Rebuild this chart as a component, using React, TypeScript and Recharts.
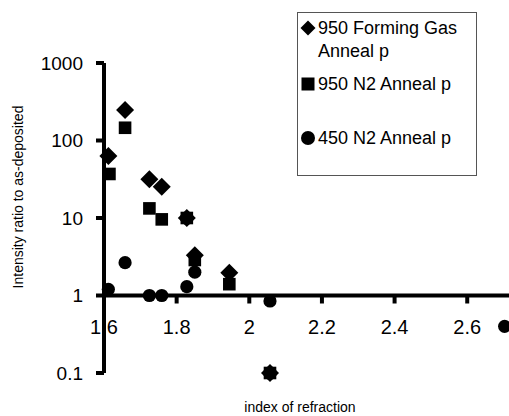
import { Label, Legend, ReferenceLine, Scatter, ScatterChart, XAxis, YAxis } from 'recharts';

const FONT = '"Liberation Sans", Arial, sans-serif';

const seriesNames = ['950 Forming Gas Anneal p', '950 N2 Anneal p', '450 N2 Anneal p'];

const fgX = [1.612, 1.658, 1.725, 1.759, 1.828, 1.85, 1.945, 2.057];
const fgY = [63, 247, 31.6, 25.4, 10, 3.3, 1.97, 0.1];

const n2HotX = [1.615, 1.658, 1.725, 1.759, 1.828, 1.85, 1.945, 2.057];
const n2HotY = [37, 146, 13.3, 9.6, 10, 2.87, 1.4, 0.1];

const n2ColdX = [1.612, 1.658, 1.725, 1.759, 1.828, 1.828, 1.85, 2.057, 2.057, 2.703];
const n2ColdY = [1.2, 2.65, 1.0, 1.0, 1.3, 10, 2.0, 0.85, 0.1, 0.4];

const xTicks = [1.6, 1.8, 2, 2.2, 2.4, 2.6];
const yTicks = [0.1, 1, 10, 100, 1000];

const toPoints = (xs: number[], ys: number[]) => xs.map((x, i) => ({ x, y: ys[i] }));

// plot box
const W = 509;
const H = 416;
const TOP = 63;
const BOTTOM = 43;
const LEFT = 104;
const plotH = H - TOP - BOTTOM;
// x axis crosses at y = 1, i.e. one decade above the bottom of the log range
const crossShift = plotH * (Math.log10(1) - Math.log10(0.1)) / (Math.log10(1000) - Math.log10(0.1));

const Diamond = ({ cx, cy, s = 9 }: any) => (
  <polygon points={`${cx},${cy - s} ${cx + s},${cy} ${cx},${cy + s} ${cx - s},${cy}`} fill="#000" />
);
const Square = ({ cx, cy, s = 6.3 }: any) => <rect x={cx - s} y={cy - s} width={s * 2} height={s * 2} fill="#000" />;
const Dot = ({ cx, cy, r = 6.6 }: any) => <circle cx={cx} cy={cy} r={r} fill="#000" />;

const XTick = ({ x, y, payload }: any) => {
  const ay = y - crossShift;
  return (
    <g>
      <line x1={x} x2={x} y1={ay} y2={ay + 8} stroke="#000" strokeWidth={4} />
      <text x={x} y={ay + 38} textAnchor="middle" fontSize={20} fontFamily={FONT} fill="#000">
        {String(payload.value)}
      </text>
    </g>
  );
};

const icons = [
  <svg width={16} height={16} key="d"><Diamond cx={8} cy={8} s={7.5} /></svg>,
  <svg width={16} height={16} key="s"><Square cx={8} cy={8} s={6.5} /></svg>,
  <svg width={16} height={16} key="c"><Dot cx={8} cy={8} r={7} /></svg>,
];
const blockH = [56, 54, 50];

const LegendBox = () => (
  <div style={{ border: '1px solid #555', width: 178, height: 158, boxSizing: 'content-box', background: '#fff', paddingTop: 4 }}>
    {seriesNames.map((name, i) => (
      <div key={name} style={{ display: 'flex', alignItems: 'flex-start', height: blockH[i] }}>
        <div style={{ width: 20, paddingLeft: 0, display: 'flex', justifyContent: 'center', marginTop: 3 }}>{icons[i]}</div>
        <div style={{ width: 156, fontFamily: FONT, fontSize: 18, lineHeight: '23px', color: '#000' }}>{name}</div>
      </div>
    ))}
  </div>
);

export default function App() {
  return (
    <div style={{ position: 'absolute', left: 0, top: 0, width: W, height: H, background: '#fff' }}>
      <ScatterChart width={W} height={H} margin={{ top: TOP, right: 0, bottom: 0, left: 0 }}>
        <XAxis
          type="number"
          dataKey="x"
          domain={[1.6, 2.715]}
          ticks={xTicks}
          height={BOTTOM}
          axisLine={false}
          tickLine={false}
          tickSize={0}
          tickMargin={0}
          tick={<XTick />}
          interval={0}
        >
          <Label
            content={() => (
              <text x={300} y={412} textAnchor="middle" fontSize={14} fontFamily={FONT} fill="#000">
                index of refraction
              </text>
            )}
          />
        </XAxis>
        <YAxis
          type="number"
          dataKey="y"
          scale="log"
          domain={[0.1, 1000]}
          ticks={yTicks}
          width={LEFT}
          axisLine={{ stroke: '#000', strokeWidth: 4 }}
          tickLine={{ stroke: '#000', strokeWidth: 4 }}
          tickSize={8}
          tickMargin={13}
          interval={0}
          tick={{ fill: '#000', fontSize: 19, fontFamily: FONT }}
        >
          <Label
            content={() => (
              <text
                x={18}
                y={197}
                textAnchor="middle"
                dominantBaseline="central"
                transform="rotate(-90 18 197)"
                fontSize={14}
                fontFamily={FONT}
                fill="#000"
              >
                Intensity ratio to as-deposited
              </text>
            )}
          />
        </YAxis>
        <ReferenceLine y={1} stroke="#000" strokeWidth={4} />
        <Legend
          layout="horizontal"
          align="center"
          verticalAlign="middle"
          content={<LegendBox />}
          wrapperStyle={{ left: 297, top: 12, width: 180, height: 163 }}
        />
        <Scatter name={seriesNames[0]} data={toPoints(fgX, fgY)} shape={<Diamond />} isAnimationActive={false} />
        <Scatter name={seriesNames[1]} data={toPoints(n2HotX, n2HotY)} shape={<Square />} isAnimationActive={false} />
        <Scatter name={seriesNames[2]} data={toPoints(n2ColdX, n2ColdY)} shape={<Dot />} isAnimationActive={false} />
      </ScatterChart>
    </div>
  );
}
